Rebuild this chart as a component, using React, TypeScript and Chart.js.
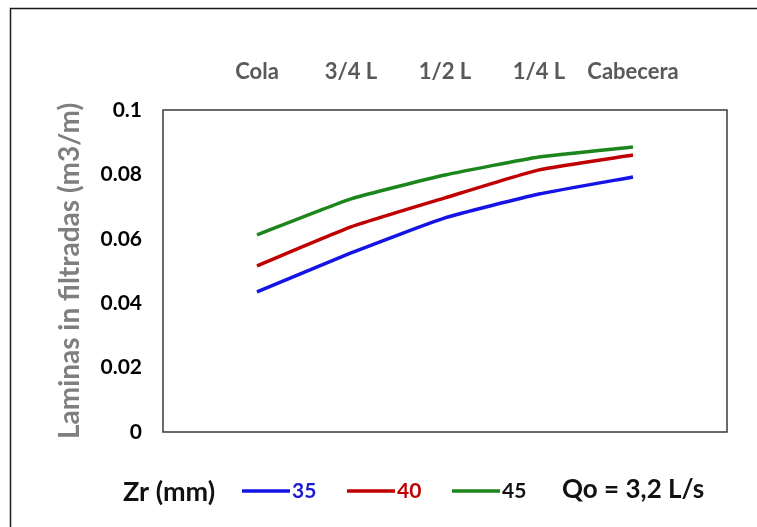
import React, { useEffect, useRef } from "react";
import { Chart, registerables } from "chart.js";

Chart.register(...registerables);

// ---- data ----
const categories = ["Cola", "3/4 L", "1/2 L", "1/4 L", "Cabecera"];
const seriesNames = ["35", "40", "45"];
const zr35 = [0.0435, 0.0556, 0.0665, 0.0739, 0.0792];
const zr40 = [0.0516, 0.0637, 0.0727, 0.0814, 0.086];
const zr45 = [0.0612, 0.0724, 0.0798, 0.0854, 0.0885];
const yTicks = [0, 0.02, 0.04, 0.06, 0.08, 0.1];
const yTitle = "Laminas in filtradas (m3/m)";
const legendTitle = "Zr (mm)";
const noteText = "Qo = 3,2 L/s";

const FONT = 'Lato, "Open Sans", "DejaVu Sans", sans-serif';
const lineColors = ["#1414e6", "#c00000", "#1c861c"];
const legendTextColors = ["#1a1ad0", "#c00000", "#111111"];

const toPoints = (vals: number[]) => vals.map((v, i) => ({ x: i + 1, y: v }));

const decor = {
  id: "decor",
  beforeDraw(chart: any) {
    const { ctx } = chart;
    ctx.save();
    ctx.fillStyle = "#ffffff";
    ctx.fillRect(0, 0, chart.width, chart.height);
    ctx.strokeStyle = "#1a1a1a";
    ctx.lineWidth = 1.5;
    ctx.beginPath();
    ctx.moveTo(10.5, chart.height + 2);
    ctx.lineTo(10.5, 8.5);
    ctx.lineTo(chart.width + 2, 8.5);
    ctx.stroke();
    ctx.restore();
  },
  beforeDatasetsDraw(chart: any) {
    const { ctx, chartArea: a } = chart;
    ctx.save();
    ctx.strokeStyle = "#3a3a3a";
    ctx.lineWidth = 1.5;
    ctx.strokeRect(a.left, a.top, a.right - a.left, a.bottom - a.top);
    ctx.restore();
  },
  afterDraw(chart: any) {
    const { ctx } = chart;
    const y = 491;
    ctx.save();
    ctx.textBaseline = "middle";
    ctx.textAlign = "left";
    ctx.fillStyle = "#111111";
    ctx.font = `bold 27px ${FONT}`;
    ctx.fillText(legendTitle, 123, y + 1);
    const starts = [242, 347, 452];
    chart.data.datasets.forEach((ds: any, i: number) => {
      const x0 = starts[i];
      ctx.strokeStyle = ds.borderColor;
      ctx.lineWidth = 3.5;
      ctx.beginPath();
      ctx.moveTo(x0, y);
      ctx.lineTo(x0 + 48, y);
      ctx.stroke();
      ctx.fillStyle = legendTextColors[i];
      ctx.font = `bold 21px ${FONT}`;
      ctx.fillText(ds.label, x0 + 50, y);
    });
    ctx.fillStyle = "#111111";
    ctx.font = `bold 26px ${FONT}`;
    ctx.fillText(noteText, 562, y - 1);
    ctx.restore();
  },
};

export default function App() {
  const ref = useRef<HTMLCanvasElement | null>(null);
  useEffect(() => {
    if (!ref.current) return;
    const seriesData = [zr35, zr40, zr45];
    const chart = new Chart(ref.current, {
      type: "line",
      data: {
        datasets: seriesData.map((vals, i) => ({
          label: seriesNames[i],
          data: toPoints(vals),
          borderColor: lineColors[i],
          backgroundColor: lineColors[i],
          borderWidth: 3.5,
          pointRadius: 0,
          tension: 0.15,
          fill: false,
        })),
      },
      options: {
        animation: false,
        responsive: true,
        maintainAspectRatio: false,
        layout: { padding: { left: 0, top: 0, right: 30, bottom: 95 } },
        plugins: { legend: { display: false }, tooltip: { enabled: false } },
        scales: {
          x: {
            type: "linear",
            position: "top",
            min: 0,
            max: categories.length + 1,
            grid: { display: false, drawTicks: false, tickLength: 0 },
            border: { display: false },
            afterBuildTicks: (s: any) => {
              s.ticks = categories.map((_, i) => ({ value: i + 1 }));
            },
            afterFit: (s: any) => {
              s.height = 110;
            },
            ticks: {
              autoSkip: false,
              maxRotation: 0,
              padding: 25,
              color: "#595959",
              font: { family: FONT, size: 22, weight: "bold" },
              callback: (v: any) => categories[Math.round(Number(v)) - 1] ?? "",
            },
          },
          y: {
            min: 0,
            max: 0.1,
            grid: { display: false, drawTicks: false, tickLength: 0 },
            border: { display: false },
            afterBuildTicks: (s: any) => {
              s.ticks = yTicks.map((v) => ({ value: v }));
            },
            afterFit: (s: any) => {
              s.width = 163;
            },
            ticks: {
              padding: 21,
              color: "#000000",
              font: { family: FONT, size: 21, weight: "bold" },
              callback: (v: any) => String(Number(Number(v).toFixed(2))),
            },
            title: {
              display: true,
              text: yTitle,
              color: "#7f7f7f",
              padding: { top: 53, bottom: 0 },
              font: { family: FONT, size: 28, weight: "bold" },
            },
          },
        },
      },
      plugins: [decor],
    });
    return () => chart.destroy();
  }, []);
  return (
    <div style={{ position: "absolute", left: 0, top: 0, width: 757, height: 527 }}>
      <canvas ref={ref} />
    </div>
  );
}
